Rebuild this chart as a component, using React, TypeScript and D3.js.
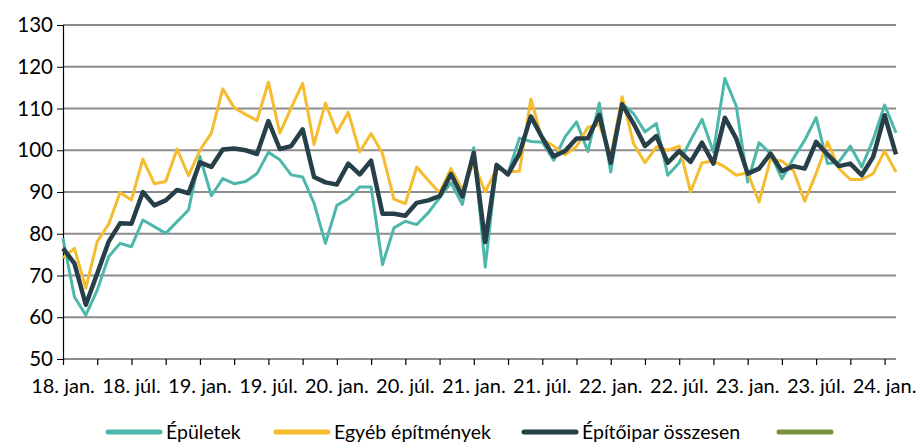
import React, { useRef, useEffect } from "react";
import * as d3 from "d3";

// monthly index values, 2018 Jan - 2024 Feb
const epuletek = [
  78.9, 64.9, 60.5, 66.5, 74.5, 77.7, 76.9, 83.3, 81.7, 80.1, 82.9, 85.7,
  98.5, 89.1, 93.2, 92.0, 92.5, 94.4, 99.5, 97.7, 94.1, 93.6, 87.3, 77.7,
  86.8, 88.4, 91.2, 91.2, 72.6, 81.4, 83.0, 82.2, 85.0, 88.6, 92.2, 87.0,
  100.6, 72.0, 96.2, 94.5, 102.9, 102.1, 101.9, 97.6, 103.2, 106.8, 99.7, 111.3,
  94.8, 111.2, 108.8, 104.4, 106.4, 94.0, 97.0, 102.4, 107.4, 99.6, 117.2, 110.6,
  92.4, 101.8, 99.2, 93.2, 98.0, 102.4, 107.8, 96.8, 97.2, 101.0, 96.0, 102.6,
  110.8, 104.2,
];

const egyeb = [
  74.2, 76.5, 67.0, 78.1, 82.3, 89.9, 88.1, 97.9, 92.0, 92.5, 100.3, 93.9,
  100.0, 104.1, 114.7, 110.2, 108.6, 107.1, 116.3, 104.1, 110.2, 116.0, 101.4, 111.3,
  104.2, 109.1, 99.6, 104.0, 99.2, 88.3, 87.2, 96.0, 92.8, 89.8, 95.6, 90.6,
  97.0, 90.0, 95.6, 94.8, 95.0, 112.3, 102.6, 101.0, 98.9, 100.9, 105.5, 106.2,
  98.4, 112.8, 101.6, 97.0, 100.8, 100.0, 101.0, 90.0, 97.0, 97.4, 96.0, 94.0,
  94.6, 87.6, 97.8, 97.4, 95.2, 87.8, 94.4, 102.0, 95.6, 93.0, 93.0, 94.4,
  99.8, 94.8,
];

const osszesen = [
  76.5, 72.9, 63.0, 70.5, 78.1, 82.5, 82.4, 90.0, 86.8, 88.0, 90.5, 89.7,
  97.1, 96.0, 100.2, 100.4, 100.0, 99.1, 107.0, 100.3, 101.0, 105.0, 93.6, 92.3,
  91.8, 96.8, 94.2, 97.5, 84.8, 84.8, 84.3, 87.4, 88.0, 89.0, 94.3, 88.9,
  99.4, 78.0, 96.5, 94.2, 99.2, 108.1, 103.0, 98.5, 99.8, 102.8, 102.9, 108.5,
  97.0, 111.0, 106.4, 101.0, 103.4, 97.0, 99.8, 97.2, 101.8, 96.8, 107.8, 102.8,
  94.4, 95.6, 99.2, 95.0, 96.2, 95.6, 102.0, 99.0, 96.2, 96.8, 94.0, 98.4,
  108.4, 99.0,
];

const tickLabels = [
  "18. jan.", "18. júl.", "19. jan.", "19. júl.", "20. jan.", "20. júl.",
  "21. jan.", "21. júl.", "22. jan.", "22. júl.", "23. jan.", "23. júl.", "24. jan.",
];

const yTicks = [50, 60, 70, 80, 90, 100, 110, 120, 130];

const series = [
  { name: "Épületek", values: epuletek, color: "#4db8aa", width: 3 },
  { name: "Egyéb építmények", values: egyeb, color: "#f4bc2e", width: 3 },
  { name: "Építőipar összesen", values: osszesen, color: "#263f49", width: 4.5 },
];

const legendItems = [
  { name: "Épületek", color: "#4db8aa", x: 108 },
  { name: "Egyéb építmények", color: "#f4bc2e", x: 276 },
  { name: "Építőipar összesen", color: "#263f49", x: 524 },
  { name: "", color: "#76923c", x: 779 },
];

const W = 917;
const H = 442;
const font = "Lato, 'Open Sans', sans-serif";

const App = () => {
  const ref = useRef<SVGSVGElement>(null);

  useEffect(() => {
    const svg = d3.select(ref.current);
    svg.selectAll("*").remove();

    const left = 63,
      right = 896,
      top = 25,
      bottom = 359;

    const x = d3.scaleLinear().domain([0, osszesen.length - 1]).range([left, right]);
    const y = d3.scaleLinear().domain([50, 130]).range([bottom, top]);

    // gridlines
    svg
      .append("g")
      .selectAll("line")
      .data(yTicks)
      .join("line")
      .attr("x1", left)
      .attr("x2", right)
      .attr("y1", (d) => y(d))
      .attr("y2", (d) => y(d))
      .attr("stroke", "#8c8c8c")
      .attr("stroke-width", 2);

    // y axis
    const yAxis = svg
      .append("g")
      .attr("transform", `translate(${left},0)`)
      .call(d3.axisLeft(y).tickValues(yTicks).tickSize(6).tickPadding(4));
    yAxis.select(".domain").attr("stroke", "#000").attr("stroke-width", 1.2);
    yAxis.selectAll(".tick line").attr("stroke", "#000");
    yAxis
      .selectAll("text")
      .attr("font-family", font)
      .attr("font-size", 20.5)
      .attr("fill", "#000");

    // x axis ticks every 3 months
    const qTicks = d3.range(0, osszesen.length, 3);
    const xAxis = svg
      .append("g")
      .attr("transform", `translate(0,${bottom})`)
      .call(
        d3
          .axisBottom(x)
          .tickValues(qTicks)
          .tickSize(6)
          .tickFormat(() => "")
      );
    xAxis.select(".domain").remove();
    xAxis.selectAll(".tick line").attr("stroke", "#000").attr("stroke-width", 1.2);

    svg
      .append("g")
      .selectAll("text")
      .data(tickLabels)
      .join("text")
      .attr("x", (d, i) => x(i * 6))
      .attr("y", bottom + 34)
      .attr("text-anchor", "middle")
      .attr("font-family", font)
      .attr("font-size", 20)
      .attr("fill", "#000")
      .text((d) => d);

    const line = d3
      .line<number>()
      .x((d, i) => x(i))
      .y((d) => y(d));

    svg
      .append("g")
      .selectAll("path")
      .data(series)
      .join("path")
      .attr("fill", "none")
      .attr("stroke", (d) => d.color)
      .attr("stroke-width", (d) => d.width)
      .attr("stroke-linejoin", "round")
      .attr("d", (d) => line(d.values));

    // legend
    const lg = svg
      .append("g")
      .selectAll("g")
      .data(legendItems)
      .join("g")
      .attr("transform", (d) => `translate(${d.x},432)`);
    lg.append("line")
      .attr("x1", 0)
      .attr("x2", 52)
      .attr("stroke", (d) => d.color)
      .attr("stroke-width", 5)
      .attr("stroke-linecap", "round");
    lg.append("text")
      .attr("x", 58)
      .attr("y", 7)
      .attr("font-family", font)
      .attr("font-size", 19.5)
      .attr("fill", "#000")
      .text((d) => d.name);
  }, []);

  return (
    <svg
      ref={ref}
      width={W}
      height={H}
      style={{ position: "absolute", left: 0, top: 0, background: "#fff" }}
    />
  );
};

export default App;
